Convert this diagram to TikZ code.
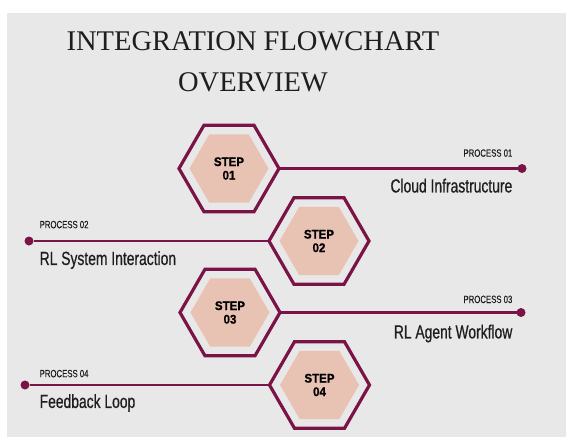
\documentclass[tikz,border=0pt]{standalone}
\usepackage{fontspec}
\setmainfont{Liberation Serif}
\newfontfamily\narrowfont[FakeStretch=0.74, FakeBold=0.3]{Liberation Sans}
\newfontfamily\namefont[FakeStretch=0.73, FakeBold=0.6]{Liberation Sans}
\newfontfamily\stepfont[FakeStretch=0.92, FakeBold=1]{Liberation Sans Bold}
\usetikzlibrary{shapes.geometric, positioning}

\definecolor{wine}{HTML}{7A1446}
\definecolor{blush}{HTML}{E8C2B3}
\definecolor{paper}{HTML}{E8E8E8}
\definecolor{ink}{HTML}{1E1E1E}

\begin{document}
\begin{tikzpicture}[
        x=1pt, y=-1pt,
        % styles
        hexframe/.style={regular polygon, regular polygon sides=6, minimum size=100pt, inner sep=0pt, outer sep=0pt, draw=wine, line width=3.2pt},
        hexfill/.style={regular polygon, regular polygon sides=6, minimum size=79pt, inner sep=0pt, outer sep=0pt, fill=blush, text=black, font=\stepfont\fontsize{12.5}{13.5}\selectfont, align=center},
        enddot/.style={circle, fill=wine, inner sep=0pt, outer sep=0pt, minimum size=9pt},
        link/.style={draw=wine, line width=2.5pt},
        proctag/.style={font=\narrowfont\fontsize{10.5}{12}\selectfont, text=ink, inner sep=0pt, outer sep=0pt},
        proctitle/.style={font=\namefont\fontsize{19}{22}\selectfont, text=ink, inner sep=0pt, outer sep=0pt} ]

    \useasboundingbox (0,0) rectangle (566,437);
    \fill [paper] (7,13) rectangle (566,437);

    % --- TITLE ---
    \node (title) [font=\fontsize{28.5}{41}\selectfont, text=ink, align=center] at (253,61.5) {INTEGRATION FLOWCHART\\OVERVIEW};

    % --- STEPS ---
    \node (hexa) [hexframe] at (229,168.5) {};
    \node (stepa) [hexfill] at (hexa) {STEP\\01};
    \node (hexb) [hexframe] at (319,241) {};
    \node (stepb) [hexfill] at (hexb) {STEP\\02};
    \node (hexc) [hexframe] at (230,312.5) {};
    \node (stepc) [hexfill] at (hexc) {STEP\\03};
    \node (hexd) [hexframe] at (319.5,385) {};
    \node (stepd) [hexfill] at (hexd) {STEP\\04};

    % --- LINE ENDS ---
    \node (dota) [enddot] at (522,168.5) {};
    \node (dotb) [enddot] at (29,241) {};
    \node (dotc) [enddot] at (521,312.5) {};
    \node (dotd) [enddot] at (25,385) {};

    % --- PROCESS LABELS ---
    \node (taga)   [proctag, above left=8.5pt and 6.5pt of dota] {PROCESS 01};
    \node (namea)  [proctitle, below left=7pt and 6.5pt of dota] {Cloud Infrastructure};
    \node (tagb)   [proctag, above right=9.5pt and 7.5pt of dotb] {PROCESS 02};
    \node (nameb)  [proctitle, below right=7pt and 7.5pt of dotb] {RL System Interaction};
    \node (tagc)   [proctag, above left=6.2pt and 5.5pt of dotc] {PROCESS 03};
    \node (namec)  [proctitle, below left=9pt and 5.5pt of dotc] {RL Agent Workflow};
    \node (tagd)   [proctag, above right=4.5pt and 11.5pt of dotd] {PROCESS 04};
    \node (named)  [proctitle, below right=6pt and 11.5pt of dotd] {Feedback Loop};

    % --- CONNECTIONS ---
    \draw [link] (hexa.east) -- (dota);
    \draw [link] (dotb) -- (hexb.west);
    \draw [link] (hexc.east) -- (dotc);
    \draw [link] (dotd) -- (hexd.west);

\end{tikzpicture}
\end{document}
